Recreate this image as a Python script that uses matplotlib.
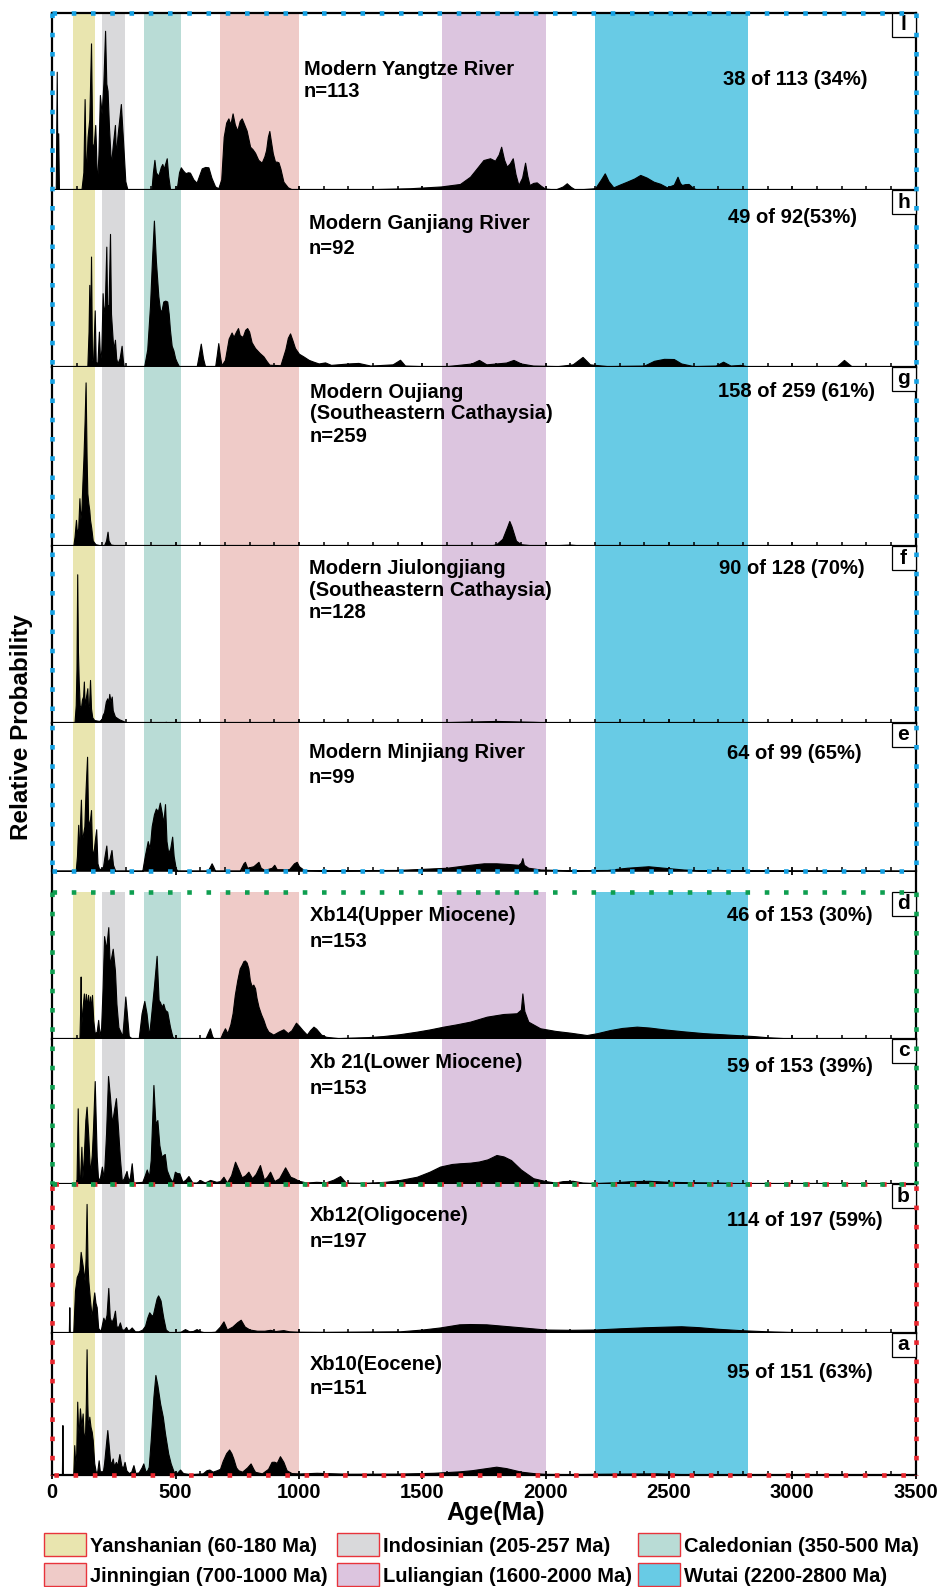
import matplotlib
matplotlib.use("Agg")
import matplotlib.pyplot as plt
from matplotlib.lines import Line2D
from matplotlib.patches import Rectangle
import numpy as np

plt.rcParams['font.family'] = ['Liberation Sans', 'DejaVu Sans']

W, H = 939, 1587

# orogenic age bands (Ma) as drawn in the figure
band_start = [85, 200, 370, 680, 1580, 2200]
band_end = [175, 295, 520, 1000, 2000, 2820]
band_colors = ['#E9E5AF', '#D9D9DB', '#B9DCD6', '#EFCBC8', '#DCC5DF', '#68CBE5']
band_labels = ['Yanshanian (60-180 Ma)', 'Indosinian (205-257 Ma)', 'Caledonian (350-500 Ma)',
               'Jinningian (700-1000 Ma)', 'Luliangian (1600-2000 Ma)', 'Wutai (2200-2800 Ma)']

# relative probability curves (age Ma, relative height)
yangtze = np.array([
    (0, 0), (14, 0), (18, 0.667), (21, 0.05), (24, 0.32), (27, 0), (118, 0), (126, 0.1), (131, 0.513),
    (136, 0.06), (143, 0.3), (150, 0.4), (157, 0.827), (162, 0.26), (168, 0.25), (174, 0.367), (177, 0.25),
    (181, 0.02), (187, 0.2), (193, 0.536), (200, 0.43), (207, 0.6), (214, 0.898), (219, 0.6), (224, 0.56),
    (230, 0.35), (238, 0.14), (245, 0.25), (254, 0.367), (258, 0.19), (264, 0.3), (278, 0.485), (288, 0.25),
    (296, 0.05), (305, 0), (402, 0), (408, 0.1), (414, 0.17), (420, 0.1), (430, 0.08), (440, 0.13),
    (446, 0.147), (452, 0.12), (458, 0.15), (464, 0.179), (470, 0.08), (478, 0), (505, 0.01), (514, 0.1),
    (521, 0.128), (530, 0.11), (540, 0.095), (550, 0.1), (558, 0.098), (572, 0.06), (585, 0.041), (595, 0.08),
    (606, 0.122), (620, 0.13), (633, 0.128), (645, 0.07), (660, 0.02), (673, 0.01), (685, 0.06), (695, 0.3),
    (705, 0.38), (714, 0.404), (722, 0.37), (731, 0.432), (740, 0.37), (750, 0.335), (760, 0.39), (768, 0.404),
    (778, 0.37), (788, 0.335), (802, 0.244), (812, 0.23), (822, 0.21), (835, 0.17), (849, 0.154), (860, 0.19),
    (867, 0.226), (874, 0.3), (880, 0.333), (887, 0.27), (894, 0.207), (903, 0.16), (910, 0.16), (917, 0.156),
    (925, 0.12), (937, 0.047), (955, 0.015), (971, 0.004), (1100, 0.003), (1300, 0.005), (1451, 0.01),
    (1576, 0.02), (1653, 0.034), (1694, 0.075), (1720, 0.12), (1748, 0.169), (1775, 0.179), (1795, 0.165),
    (1810, 0.2), (1820, 0.244), (1832, 0.17), (1843, 0.132), (1855, 0.15), (1867, 0.179), (1878, 0.09),
    (1890, 0.028), (1905, 0.07), (1917, 0.154), (1926, 0.08), (1935, 0.028), (1950, 0.04), (1964, 0.043),
    (1980, 0.025), (1998, 0.008), (2040, 0.003), (2070, 0.02), (2086, 0.038), (2100, 0.02), (2120, 0.002),
    (2201, 0.01), (2225, 0.06), (2240, 0.094), (2255, 0.05), (2275, 0.015), (2300, 0.03), (2330, 0.047),
    (2360, 0.065), (2384, 0.085), (2410, 0.07), (2438, 0.047), (2465, 0.035), (2492, 0.015), (2520, 0.03),
    (2535, 0.075), (2545, 0.04), (2553, 0.028), (2565, 0.033), (2580, 0.034), (2600, 0.01), (2620, 0),
    (3500, 0)])

ganjiang = np.array([
    (0, 0), (142, 0), (147, 0.2), (150, 0.464), (153, 0.1), (157, 0.624), (161, 0.05), (165, 0.02),
    (172, 0.32), (176, 0.03), (183, 0.02), (189, 0.2), (194, 0.03), (199, 0.1), (204, 0.417), (208, 0.3),
    (213, 0.35), (219, 0.68), (222, 0.35), (228, 0.35), (234, 0.752), (238, 0.3), (245, 0.15), (249, 0.1),
    (254, 0.154), (259, 0.05), (264, 0.02), (273, 0.05), (281, 0.12), (286, 0.04), (290, 0), (372, 0),
    (385, 0.1), (396, 0.342), (404, 0.6), (412, 0.827), (420, 0.6), (430, 0.4), (437, 0.32), (443, 0.32),
    (450, 0.37), (458, 0.375), (466, 0.37), (472, 0.3), (477, 0.21), (484, 0.12), (491, 0.094), (498, 0.05),
    (504, 0.03), (515, 0), (585, 0), (593, 0.06), (602, 0.132), (611, 0.05), (620, 0), (660, 0), (667, 0.07),
    (673, 0.135), (680, 0.06), (686, 0.01), (700, 0.04), (715, 0.16), (727, 0.195), (735, 0.17), (745, 0.2),
    (753, 0.22), (760, 0.18), (772, 0.17), (782, 0.21), (790, 0.22), (798, 0.2), (808, 0.14), (822, 0.107),
    (840, 0.08), (856, 0.06), (868, 0.035), (880, 0.013), (925, 0.01), (945, 0.1), (955, 0.165), (964, 0.19),
    (974, 0.15), (984, 0.107), (1000, 0.075), (1018, 0.06), (1040, 0.04), (1059, 0.03), (1080, 0.02),
    (1106, 0.026), (1130, 0.012), (1200, 0.02), (1241, 0.023), (1290, 0.008), (1380, 0.015), (1410, 0.041),
    (1430, 0.008), (1500, 0.005), (1600, 0.005), (1700, 0.02), (1730, 0.04), (1760, 0.015), (1800, 0.02),
    (1840, 0.025), (1870, 0.04), (1900, 0.02), (1950, 0.008), (2050, 0.005), (2110, 0.015), (2150, 0.057),
    (2180, 0.015), (2250, 0.005), (2400, 0.008), (2440, 0.035), (2480, 0.046), (2520, 0.045), (2550, 0.02),
    (2600, 0.005), (2690, 0.008), (2720, 0.03), (2750, 0.008), (2790, 0.012), (2820, 0.003), (3180, 0.003),
    (3210, 0.04), (3240, 0.005), (3500, 0)])

oujiang = np.array([
    (0, 0), (85, 0), (90, 0.05), (96, 0.146), (100, 0.07), (105, 0.1), (110, 0.267), (114, 0.15), (118, 0.2),
    (122, 0.35), (126, 0.481), (131, 0.7), (135, 0.914), (139, 0.5), (142, 0.295), (146, 0.24), (150, 0.2),
    (153, 0.146), (158, 0.1), (164, 0.03), (175, 0.01), (190, 0.005), (210, 0.005), (218, 0.03), (224, 0.08),
    (228, 0.03), (237, 0.008), (260, 0.003), (280, 0), (700, 0), (900, 0.003), (1000, 0), (1770, 0),
    (1800, 0.01), (1825, 0.04), (1845, 0.11), (1853, 0.14), (1862, 0.11), (1880, 0.03), (1900, 0.01),
    (1950, 0.003), (2050, 0.005), (2100, 0.008), (2150, 0.002), (3500, 0)])

jiulongjiang = np.array([
    (0, 0), (90, 0), (95, 0.1), (98, 0.3), (101, 0.84), (104, 0.4), (107, 0.24), (111, 0.1), (116, 0.08),
    (120, 0.13), (125, 0.15), (128, 0.233), (131, 0.1), (137, 0.15), (142, 0.195), (145, 0.08), (149, 0.1),
    (153, 0.242), (157, 0.08), (162, 0.03), (170, 0.015), (190, 0.01), (200, 0.02), (204, 0.044), (210, 0.06),
    (217, 0.12), (223, 0.138), (227, 0.11), (231, 0.163), (236, 0.12), (241, 0.148), (245, 0.07), (254, 0.035),
    (270, 0.02), (290, 0.008), (300, 0), (450, 0), (460, 0.005), (470, 0), (1500, 0), (1650, 0.005),
    (1800, 0.01), (1950, 0.005), (2050, 0), (3500, 0)])

minjiang = np.array([
    (0, 0), (95, 0), (100, 0.1), (105, 0.31), (108, 0.08), (112, 0.3), (116, 0.48), (120, 0.2), (125, 0.25),
    (130, 0.3), (135, 0.55), (141, 0.77), (145, 0.35), (150, 0.3), (157, 0.41), (161, 0.15), (166, 0.1),
    (172, 0.2), (178, 0.28), (183, 0.05), (190, 0.01), (205, 0.02), (212, 0.1), (219, 0.17), (224, 0.06),
    (232, 0.08), (240, 0.14), (246, 0.04), (255, 0), (365, 0), (375, 0.1), (387, 0.2), (395, 0.15), (403, 0.3),
    (412, 0.38), (420, 0.42), (428, 0.4), (436, 0.46), (445, 0.38), (450, 0.32), (457, 0.45), (463, 0.2),
    (470, 0.12), (478, 0.15), (486, 0.23), (492, 0.1), (500, 0.02), (506, 0), (630, 0), (640, 0.03),
    (646, 0.05), (652, 0.03), (660, 0), (760, 0), (775, 0.05), (781, 0.06), (790, 0.02), (815, 0.03),
    (836, 0.06), (845, 0.02), (860, 0.005), (890, 0.02), (900, 0.04), (910, 0.01), (960, 0.01), (980, 0.05),
    (991, 0.06), (1000, 0.03), (1020, 0.005), (1100, 0.003), (1400, 0.005), (1600, 0.02), (1694, 0.04),
    (1750, 0.05), (1800, 0.05), (1850, 0.045), (1890, 0.04), (1900, 0.055), (1906, 0.085), (1912, 0.04),
    (1930, 0.02), (1980, 0.008), (2100, 0.003), (2250, 0.005), (2330, 0.02), (2417, 0.03), (2480, 0.02),
    (2560, 0.008), (2640, 0.002), (2700, 0.006), (2750, 0.002), (3500, 0)])

xb14 = np.array([
    (0, 0), (110, 0), (113, 0.2), (115, 0.425), (117, 0.08), (122, 0.2), (128, 0.31), (132, 0.2), (136, 0.307),
    (140, 0.22), (145, 0.3), (149, 0.2), (153, 0.29), (157, 0.2), (161, 0.3), (166, 0.13), (172, 0.04),
    (180, 0.05), (186, 0.13), (192, 0.02), (198, 0.08), (204, 0.35), (210, 0.7), (218, 0.61), (227, 0.761),
    (233, 0.5), (238, 0.55), (245, 0.614), (254, 0.466), (260, 0.24), (268, 0.08), (284, 0.02), (290, 0.15),
    (296, 0.289), (302, 0.18), (310, 0.02), (325, 0), (350, 0), (357, 0.1), (362, 0.175), (373, 0.259),
    (382, 0.175), (392, 0.02), (400, 0.15), (412, 0.357), (423, 0.566), (431, 0.266), (437, 0.25), (443, 0.22),
    (450, 0.24), (457, 0.198), (466, 0.186), (477, 0.084), (487, 0.015), (497, 0), (620, 0), (630, 0.04),
    (639, 0.073), (648, 0.02), (655, 0), (680, 0), (690, 0.04), (700, 0.073), (710, 0.04), (722, 0.1),
    (731, 0.175), (740, 0.3), (750, 0.4), (760, 0.48), (768, 0.505), (775, 0.53), (781, 0.534), (788, 0.52),
    (795, 0.48), (801, 0.4), (808, 0.36), (815, 0.37), (822, 0.345), (828, 0.28), (836, 0.22), (846, 0.17),
    (856, 0.13), (866, 0.08), (876, 0.05), (896, 0.03), (917, 0.05), (937, 0.066), (955, 0.04), (970, 0.06),
    (988, 0.111), (1000, 0.09), (1015, 0.06), (1032, 0.03), (1045, 0.06), (1059, 0.084), (1070, 0.07),
    (1090, 0.03), (1110, 0.015), (1160, 0.006), (1207, 0.009), (1280, 0.013), (1342, 0.02), (1410, 0.033),
    (1478, 0.05), (1530, 0.065), (1586, 0.084), (1640, 0.1), (1694, 0.118), (1762, 0.152), (1829, 0.17),
    (1883, 0.175), (1900, 0.2), (1906, 0.31), (1914, 0.19), (1930, 0.118), (1978, 0.073), (2040, 0.055),
    (2100, 0.043), (2167, 0.027), (2210, 0.04), (2262, 0.061), (2310, 0.075), (2370, 0.084), (2420, 0.078),
    (2478, 0.066), (2560, 0.052), (2640, 0.04), (2740, 0.03), (2843, 0.02), (2900, 0.012), (2978, 0.005),
    (3050, 0), (3500, 0)])

xb21 = np.array([
    (0, 0), (98, 0), (103, 0.522), (108, 0.05), (113, 0.06), (118, 0.257), (122, 0.04), (128, 0.2),
    (134, 0.441), (139, 0.533), (146, 0.326), (153, 0.07), (160, 0.2), (165, 0.38), (172, 0.71), (180, 0.19),
    (186, 0.02), (194, 0.05), (201, 0.12), (209, 0.04), (218, 0.35), (226, 0.745), (234, 0.6), (242, 0.418),
    (250, 0.51), (258, 0.592), (266, 0.395), (274, 0.18), (282, 0.02), (290, 0.04), (301, 0.09), (309, 0.02),
    (315, 0.05), (322, 0.143), (329, 0.01), (365, 0.015), (375, 0.06), (383, 0.1), (392, 0.05), (399, 0.166),
    (410, 0.683), (418, 0.418), (426, 0.441), (434, 0.269), (443, 0.189), (450, 0.2), (456, 0.207),
    (464, 0.097), (477, 0.04), (488, 0.015), (497, 0.085), (506, 0.075), (515, 0.074), (528, 0.015),
    (540, 0.03), (552, 0.055), (568, 0.01), (585, 0.01), (599, 0.028), (618, 0.01), (640, 0.028),
    (665, 0.015), (680, 0.02), (694, 0.05), (708, 0.01), (725, 0.06), (741, 0.154), (755, 0.1), (768, 0.046),
    (782, 0.06), (795, 0.085), (810, 0.04), (825, 0.07), (842, 0.131), (858, 0.03), (870, 0.05), (883, 0.085),
    (900, 0.02), (920, 0.04), (944, 0.115), (965, 0.05), (980, 0.04), (998, 0.023), (1030, 0.01),
    (1070, 0.015), (1110, 0.012), (1140, 0.03), (1167, 0.055), (1190, 0.01), (1270, 0.008), (1350, 0.015),
    (1410, 0.028), (1478, 0.05), (1530, 0.085), (1572, 0.12), (1620, 0.138), (1653, 0.143), (1694, 0.147),
    (1730, 0.155), (1765, 0.17), (1801, 0.2), (1830, 0.19), (1860, 0.165), (1900, 0.1), (1950, 0.04),
    (2000, 0.02), (2040, 0.01), (2070, 0.02), (2110, 0.022), (2150, 0.01), (2200, 0.006), (2280, 0.012),
    (2350, 0.02), (2420, 0.022), (2500, 0.015), (2600, 0.012), (2700, 0.01), (2800, 0.004), (2900, 0),
    (3500, 0)])

xb12 = np.array([
    (0, 0), (67, 0), (69, 0.17), (71, 0), (85, 0), (88, 0.12), (92, 0.283), (99, 0.373), (105, 0.396),
    (110, 0.42), (115, 0.543), (123, 0.452), (131, 0.35), (135, 0.5), (139, 0.866), (143, 0.45), (146, 0.35),
    (153, 0.215), (160, 0.1), (165, 0.2), (170, 0.27), (175, 0.2), (180, 0.17), (186, 0.03), (196, 0.01),
    (202, 0.06), (207, 0.1), (213, 0.07), (220, 0.12), (227, 0.3), (233, 0.1), (240, 0.07), (248, 0.1),
    (254, 0.147), (260, 0.04), (268, 0.04), (274, 0.068), (282, 0.02), (291, 0.02), (299, 0.038), (306, 0.015),
    (314, 0.02), (322, 0.034), (335, 0.008), (350, 0.008), (365, 0.02), (376, 0.045), (385, 0.1), (393, 0.136),
    (400, 0.12), (407, 0.113), (416, 0.18), (423, 0.23), (429, 0.25), (435, 0.23), (439, 0.215), (445, 0.15),
    (450, 0.1), (460, 0.02), (475, 0), (520, 0.005), (538, 0.023), (555, 0.008), (570, 0.01), (585, 0.023),
    (600, 0.008), (620, 0), (660, 0.005), (680, 0.04), (694, 0.075), (708, 0.02), (730, 0.04), (750, 0.07),
    (764, 0.086), (780, 0.04), (800, 0.02), (830, 0.012), (860, 0.012), (883, 0.018), (905, 0.01),
    (937, 0.016), (960, 0.008), (1000, 0.005), (1100, 0.004), (1250, 0.006), (1410, 0.008), (1500, 0.02),
    (1572, 0.034), (1650, 0.055), (1694, 0.057), (1760, 0.055), (1830, 0.045), (1900, 0.035), (2000, 0.02),
    (2100, 0.018), (2200, 0.02), (2300, 0.028), (2400, 0.035), (2500, 0.04), (2550, 0.042), (2620, 0.036),
    (2700, 0.025), (2800, 0.015), (2900, 0.008), (3000, 0.003), (3100, 0), (3500, 0)])

xb10 = np.array([
    (0, 0), (39, 0), (41, 0.348), (43, 0), (85, 0), (87, 0.1), (89, 0.207), (93, 0.07), (97, 0.15),
    (101, 0.513), (104, 0.35), (107, 0.289), (112, 0.466), (118, 0.336), (123, 0.43), (128, 0.242),
    (133, 0.3), (136, 0.5), (139, 0.882), (142, 0.5), (145, 0.313), (150, 0.407), (155, 0.336), (160, 0.3),
    (164, 0.242), (170, 0.08), (176, 0.02), (182, 0.02), (188, 0.1), (193, 0.02), (205, 0.02), (210, 0.08),
    (215, 0.17), (223, 0.313), (228, 0.219), (235, 0.08), (241, 0.09), (245, 0.113), (250, 0.06),
    (258, 0.089), (263, 0.06), (272, 0.144), (280, 0.06), (287, 0.05), (293, 0.089), (300, 0.03), (310, 0.01),
    (320, 0.02), (329, 0.066), (337, 0.01), (350, 0.015), (362, 0.05), (369, 0.078), (378, 0.02), (385, 0.03),
    (391, 0.054), (399, 0.242), (410, 0.548), (418, 0.701), (426, 0.631), (437, 0.501), (448, 0.407),
    (457, 0.289), (470, 0.148), (480, 0.078), (492, 0.02), (505, 0.01), (518, 0.035), (530, 0.01),
    (560, 0.002), (610, 0.008), (625, 0.03), (637, 0.035), (650, 0.02), (667, 0.03), (680, 0.04), (691, 0.096),
    (705, 0.15), (717, 0.176), (726, 0.15), (734, 0.113), (745, 0.05), (754, 0.03), (770, 0.02), (790, 0.05),
    (804, 0.078), (815, 0.04), (822, 0.019), (850, 0.008), (875, 0.04), (889, 0.089), (900, 0.09),
    (910, 0.082), (923, 0.129), (937, 0.089), (950, 0.03), (970, 0.01), (1004, 0.007), (1072, 0.012),
    (1200, 0.005), (1400, 0.006), (1545, 0.012), (1650, 0.022), (1700, 0.03), (1760, 0.045), (1800, 0.055),
    (1840, 0.045), (1900, 0.02), (1950, 0.01), (2000, 0.004), (2100, 0.003), (2300, 0.006), (2450, 0.008),
    (2550, 0.003), (2650, 0), (3500, 0)])

curves = [yangtze, ganjiang, oujiang, jiulongjiang, minjiang, xb14, xb21, xb12, xb10]
sample_names = ['Modern Yangtze River', 'Modern Ganjiang River',
                'Modern Oujiang\n(Southeastern Cathaysia)', 'Modern Jiulongjiang\n(Southeastern Cathaysia)',
                'Modern Minjiang River', 'Xb14(Upper Miocene)', 'Xb 21(Lower Miocene)',
                'Xb12(Oligocene)', 'Xb10(Eocene)']
n_grains = [113, 92, 259, 128, 99, 153, 153, 197, 151]
young_counts = ['38 of 113 (34%)', '49 of 92(53%)', '158 of 259 (61%)', '90 of 128 (70%)',
                '64 of 99 (65%)', '46 of 153 (30%)', '59 of 153 (39%)', '114 of 197 (59%)',
                '95 of 151 (63%)']
panel_letters = ['l', 'h', 'g', 'f', 'e', 'd', 'c', 'b', 'a']

# layout in pixels
X0, X1 = 52.3, 915.5
panel_top = [12.7, 190, 367, 546, 722.7, 892, 1039, 1184, 1332.5]
panel_bot = [190, 367, 546, 722.7, 870.7, 1039, 1184, 1332.5, 1474.5]
name_x = [304, 309, 310, 309, 309, 310, 310, 310, 310]
# vertical centres of the text lines (cap height) of each annotation block
line_y = [[68, 90], [221.5, 247], [390.5, 412, 435], [566.5, 588.5, 611], [751, 776],
          [914, 940], [1061, 1087], [1214, 1240], [1363, 1387]]
count_x = [723, 728, 718, 719, 727, 727, 727, 727, 727]
count_y = [78, 216, 390, 567, 752, 914, 1065, 1219, 1371]

FS = 14.5
CAP = 0.716 * FS * 100 / 72 / 2   # half cap height in px


def fx(x):
    return x / W


def fy(y):
    return 1 - y / H


fig = plt.figure(figsize=(W / 100, H / 100), dpi=100)

for i, cur in enumerate(curves):
    ax = fig.add_axes([fx(X0), fy(panel_bot[i]), (X1 - X0) / W, (panel_bot[i] - panel_top[i]) / H])
    ax.set_xlim(0, 3500)
    ax.set_ylim(0, 1)
    for s, e, c in zip(band_start, band_end, band_colors):
        ax.axvspan(s, e, color=c, lw=0, zorder=0)
    ax.fill_between(cur[:, 0], 0, cur[:, 1], color='black', lw=0.8, zorder=2)
    ax.set_yticks([])
    ax.set_xticks(np.arange(0, 3501, 500))
    ax.set_xticks(np.arange(0, 3501, 100), minor=True)
    ax.tick_params(axis='x', which='major', direction='inout', length=6, width=1.3)
    ax.tick_params(axis='x', which='minor', direction='in', length=3, width=1.1)
    for sp in ax.spines.values():
        sp.set_linewidth(1.6)
    if i != 0:
        ax.spines['top'].set_visible(False)
    if i == 4:
        ax.spines['bottom'].set_visible(False)
    if i < len(curves) - 1:
        ax.tick_params(axis='x', labelbottom=False)
    else:
        ax.tick_params(axis='x', which='major', labelsize=14.5, pad=3)
        for lab in ax.get_xticklabels():
            lab.set_fontweight('bold')

    # sample name and n
    lines = sample_names[i].split('\n') + ['n=%d' % n_grains[i]]
    for t, yy in zip(lines, line_y[i]):
        fig.text(fx(name_x[i]), fy(yy + CAP), t, fontsize=FS, fontweight='bold',
                 ha='left', va='baseline')
    fig.text(fx(count_x[i]), fy(count_y[i] + CAP), young_counts[i], fontsize=FS, fontweight='bold',
             ha='left', va='baseline')
    # panel letter box
    fig.add_artist(Rectangle((fx(892), fy(panel_top[i] + 24)), 23.5 / W, 24 / H, transform=fig.transFigure,
                             facecolor='white', edgecolor='black', lw=0.9, zorder=5))
    fig.text(fx(903.5), fy(panel_top[i] + 12), panel_letters[i], fontsize=15, fontweight='bold',
             ha='center', va='center', zorder=6)

# spine pieces in the gap between e and d
for xx in (X0, X1):
    fig.add_artist(Line2D([fx(xx), fx(xx)], [fy(870.7), fy(892)], color='black', lw=1.6,
                          transform=fig.transFigure, zorder=4))


def dotted_frame(x0, y0, x1, y1, color, offset=0, z=8):
    style = dict(color=color, lw=3.3, linestyle=(offset, (1, 3.2)), transform=fig.transFigure, zorder=z)
    fig.add_artist(Line2D([fx(x0), fx(x1)], [fy(y0), fy(y0)], **style))
    fig.add_artist(Line2D([fx(x0), fx(x1)], [fy(y1), fy(y1)], **style))
    fig.add_artist(Line2D([fx(x0), fx(x0)], [fy(y0), fy(y1)], **style))
    fig.add_artist(Line2D([fx(x1), fx(x1)], [fy(y0), fy(y1)], **style))


dotted_frame(X0, 12.7, X1, 870.7, '#14A0E2')
dotted_frame(X0, 1184, X1, 1474.5, '#E8262E', offset=3.8, z=8)
dotted_frame(X0, 892, X1, 1184, '#0E9E50', z=9)

fig.text(fx(22), fy(727), 'Relative Probability', rotation=90, fontsize=17.5, fontweight='bold',
         ha='center', va='center')
fig.text(fx(496), fy(1513), 'Age(Ma)', fontsize=18, fontweight='bold', ha='center', va='center')

# legend for the age bands
leg_box_x = [44, 337, 638]
leg_row_y = [1533, 1563]
for j, (c, lab) in enumerate(zip(band_colors, band_labels)):
    bx = leg_box_x[j % 3]
    by = leg_row_y[j // 3]
    fig.add_artist(Rectangle((fx(bx), fy(by + 23)), 42 / W, 23 / H, transform=fig.transFigure,
                             facecolor=c, edgecolor='#E8343C', lw=1.0))
    fig.text(fx(bx + 46), fy(by + 11.5 + CAP), lab, fontsize=FS, fontweight='bold', ha='left',
             va='baseline')

fig.savefig('out.png', dpi=100)
